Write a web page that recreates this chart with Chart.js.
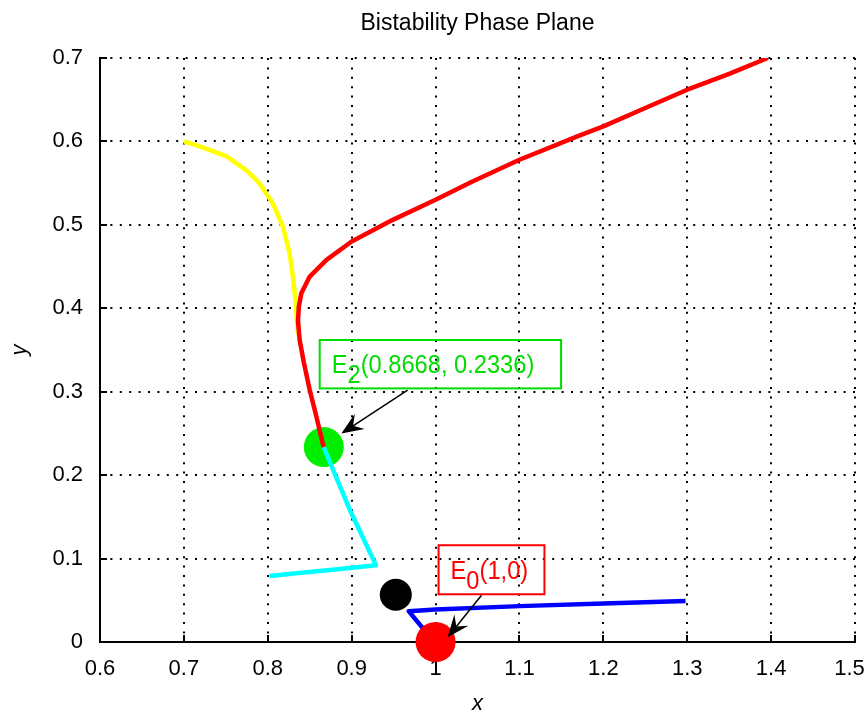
<!DOCTYPE html>
<html>
<head>
<meta charset="utf-8">
<script src="https://cdn.jsdelivr.net/npm/chart.js@4.4.1/dist/chart.umd.min.js"></script>
<style>
html,body{margin:0;padding:0;background:#fff;}
canvas{display:block;}
</style>
</head>
<body>
<canvas id="c" width="868" height="715"></canvas>
<script>
// ---- data ----
const xTicks = [0.6, 0.7, 0.8, 0.9, 1.0, 1.1, 1.2, 1.3, 1.4, 1.5];
const xTickLabels = ['0.6', '0.7', '0.8', '0.9', '1', '1.1', '1.2', '1.3', '1.4', '1.5'];
const yTicks = [0, 0.1, 0.2, 0.3, 0.4, 0.5, 0.6, 0.7];
const yTickLabels = ['0', '0.1', '0.2', '0.3', '0.4', '0.5', '0.6', '0.7'];

const yellowX = [0.700, 0.719, 0.751, 0.775, 0.790, 0.806, 0.818, 0.826, 0.830, 0.833, 0.835, 0.836];
const yellowY = [0.600, 0.594, 0.582, 0.565, 0.550, 0.526, 0.498, 0.466, 0.438, 0.410, 0.382, 0.370];

const redX = [1.396, 1.350, 1.300, 1.250, 1.200, 1.169, 1.100, 1.044, 1.000, 0.949, 0.900, 0.870, 0.850, 0.840, 0.837, 0.836, 0.838, 0.843, 0.850, 0.858, 0.865, 0.8668];
const redY = [0.700, 0.681, 0.662, 0.640, 0.618, 0.606, 0.578, 0.552, 0.530, 0.506, 0.480, 0.458, 0.438, 0.418, 0.402, 0.385, 0.362, 0.335, 0.302, 0.270, 0.240, 0.2336];

const cyanX = [0.8668, 0.878, 0.898, 0.929, 0.880, 0.840, 0.802];
const cyanY = [0.2336, 0.206, 0.158, 0.092, 0.087, 0.083, 0.079];

const blueX = [1.298, 1.200, 1.100, 1.000, 0.968, 0.991, 1.000];
const blueY = [0.049, 0.046, 0.043, 0.039, 0.037, 0.009, 0.000];

const stableE2 = [0.8668, 0.2336];
const stableE0 = [1.0, 0.0];
const saddle = [0.9526, 0.0566];

// ---- annotation layout (not data) ----
const annotations = [
  { main: 'E', sub: '2', rest: '(0.8668, 0.2336)', color: '#00dd00',
    box: { x0: 0.8619, x1: 1.1496, y0: 0.362, y1: 0.304 },
    from: [0.9667, 0.302], to: [0.8877, 0.250] },
  { main: 'E', sub: '0', rest: '(1,0)', color: '#ff0000',
    box: { x0: 1.0036, x1: 1.1298, y0: 0.116, y1: 0.0572 },
    from: [1.0548, 0.056], to: [1.0143, 0.0056] }
];

const pts = (xs, ys) => xs.map((x, i) => ({ x: x, y: ys[i] }));

Chart.defaults.font.family = "'Liberation Sans', Arial, sans-serif";
Chart.defaults.color = '#000';

function drawArrow(ctx, x1, y1, x2, y2) {
  const ang = Math.atan2(y2 - y1, x2 - x1);
  const L = 22, W = 9, back = 14;
  const c = Math.cos(ang), s = Math.sin(ang);
  ctx.beginPath();
  ctx.moveTo(x1, y1);
  ctx.lineTo(x2 - c * back, y2 - s * back);
  ctx.stroke();
  const bx = x2 - c * L, by = y2 - s * L;
  const nx = -s, ny = c;
  ctx.beginPath();
  ctx.moveTo(x2, y2);
  ctx.lineTo(bx + nx * W, by + ny * W);
  ctx.lineTo(x2 - c * back, y2 - s * back);
  ctx.lineTo(bx - nx * W, by - ny * W);
  ctx.closePath();
  ctx.fill();
}

const extras = {
  id: 'extras',
  beforeDatasetsDraw(chart) {
    const { ctx, chartArea: a, scales: { x, y } } = chart;
    ctx.save();
    ctx.strokeStyle = '#000';
    ctx.lineWidth = 2;
    ctx.beginPath();
    xTicks.forEach(v => {
      const px = Math.round(x.getPixelForValue(v));
      ctx.moveTo(px, a.bottom);
      ctx.lineTo(px, a.bottom - 7);
    });
    yTicks.forEach(v => {
      const py = Math.round(y.getPixelForValue(v));
      ctx.moveTo(a.left, py);
      ctx.lineTo(a.left + 7, py);
    });
    ctx.stroke();
    ctx.restore();
  },
  afterDatasetsDraw(chart) {
    const { ctx, scales: { x, y } } = chart;
    annotations.forEach(an => {
      const bx0 = x.getPixelForValue(an.box.x0), bx1 = x.getPixelForValue(an.box.x1);
      const by0 = y.getPixelForValue(an.box.y0), by1 = y.getPixelForValue(an.box.y1);
      ctx.save();
      ctx.strokeStyle = '#000';
      ctx.fillStyle = '#000';
      ctx.lineWidth = 1.5;
      drawArrow(ctx, x.getPixelForValue(an.from[0]), y.getPixelForValue(an.from[1]),
                x.getPixelForValue(an.to[0]), y.getPixelForValue(an.to[1]));
      ctx.strokeStyle = an.color;
      ctx.lineWidth = 2;
      ctx.strokeRect(bx0, by0, bx1 - bx0, by1 - by0);
      const sx = 0.91;
      const cy = (by0 + by1) / 2;
      const base = cy + 9;
      ctx.fillStyle = an.color;
      ctx.textBaseline = 'alphabetic';
      ctx.textAlign = 'left';
      ctx.font = "26px 'Liberation Sans', Arial, sans-serif";
      ctx.save();
      ctx.translate(bx0 + 12, base);
      ctx.scale(sx, 1);
      ctx.fillText(an.main, 0, 0);
      let w = ctx.measureText(an.main).width;
      ctx.fillText(an.sub, w, 10);
      w += ctx.measureText(an.sub).width;
      ctx.fillText(an.rest, w, 0);
      ctx.restore();
      ctx.restore();
    });
  }
};

const lineDs = (label, xs, ys, color, order) => ({
  label: label, data: pts(xs, ys), showLine: true, borderColor: color,
  backgroundColor: color, borderWidth: 4.5, pointRadius: 0, tension: 0, order: order,
  borderJoinStyle: 'round'
});
const dotDs = (label, p, color, r, order) => ({
  label: label, data: [{ x: p[0], y: p[1] }], showLine: false, pointRadius: r,
  pointHoverRadius: r, backgroundColor: color, borderWidth: 0, order: order, clip: false
});

new Chart(document.getElementById('c'), {
  type: 'scatter',
  data: {
    datasets: [
      dotDs('E0', stableE0, '#ff0000', 20, 1),
      dotDs('saddle', saddle, '#000000', 16, 2),
      lineDs('blue', blueX, blueY, '#0000ff', 3),
      lineDs('cyan', cyanX, cyanY, '#00ffff', 4),
      lineDs('red', redX, redY, '#ff0000', 5),
      lineDs('yellow', yellowX, yellowY, '#ffff00', 6),
      dotDs('E2', stableE2, '#00ee00', 20, 7)
    ]
  },
  options: {
    responsive: false,
    animation: false,
    layout: { autoPadding: false, padding: { left: 0, right: 13, top: 0, bottom: 0 } },
    plugins: {
      legend: { display: false },
      tooltip: { enabled: false },
      title: {
        display: true, text: 'Bistability Phase Plane', color: '#000', fullSize: false,
        font: { size: 23, weight: 'normal', lineHeight: 1.2 },
        padding: { top: 10, bottom: 20.4 }
      }
    },
    scales: {
      x: {
        type: 'linear', min: 0.6, max: 1.5,
        afterBuildTicks: s => { s.ticks = xTicks.map(v => ({ value: v })); },
        afterFit: s => { s.height = 73; s.paddingLeft = 0; s.paddingRight = 0; },
        ticks: {
          callback: (v, i) => (i === xTickLabels.length - 1 ? xTickLabels[i] + '\u2002' : xTickLabels[i]),
          color: '#000', font: { size: 22 }, padding: 14, maxRotation: 0, autoSkip: false
        },
        grid: { color: '#000', lineWidth: 2, drawTicks: false },
        border: { display: true, color: '#000', width: 2, dash: [2, 7.4] },
        title: { display: true, text: 'x', color: '#000', font: { size: 22, style: 'italic', lineHeight: 1 }, padding: 0 }
      },
      y: {
        type: 'linear', min: 0, max: 0.7,
        afterBuildTicks: s => { s.ticks = yTicks.map(v => ({ value: v })); },
        afterFit: s => { s.width = 100; s.paddingTop = 0; s.paddingBottom = 0; },
        ticks: { callback: (v, i) => yTickLabels[i], color: '#000', font: { size: 22 }, padding: 17, autoSkip: false },
        grid: { color: '#000', lineWidth: 2, drawTicks: false },
        border: { display: true, color: '#000', width: 2, dash: [2, 7.4] },
        title: { display: true, text: 'y', color: '#000', font: { size: 22, style: 'italic', lineHeight: 1.2 }, padding: { top: 7, bottom: 0 } }
      }
    }
  },
  plugins: [extras]
});
</script>
</body>
</html>
